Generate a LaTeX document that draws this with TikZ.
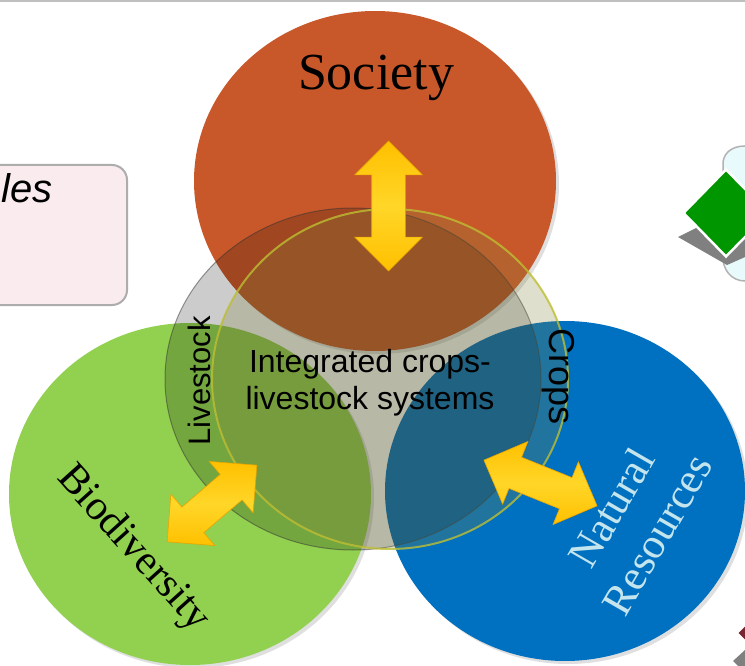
\documentclass[tikz,border=0pt]{standalone}
\usepackage{fontspec}
\setmainfont{Liberation Serif}
\newfontfamily\arialfont{Liberation Sans}
\usepackage{xcolor}
\usepackage{tikz}
\usetikzlibrary{shapes.geometric,shapes.arrows,shadows}

\definecolor{socorange}{RGB}{200,88,42}
\definecolor{biogreen}{RGB}{146,208,80}
\definecolor{natblue}{RGB}{0,112,192}
\definecolor{natlabel}{RGB}{196,229,238}
\definecolor{rimolive}{RGB}{128,128,60}
\definecolor{rimedge}{RGB}{190,190,50}
\definecolor{arrowgold}{RGB}{255,192,0}
\definecolor{arrowlight}{RGB}{255,214,40}
\definecolor{arrowedge}{RGB}{232,165,0}
\definecolor{boxpink}{RGB}{250,235,238}
\definecolor{cloudcyan}{RGB}{232,250,252}
\definecolor{diagreen}{RGB}{0,150,0}
\definecolor{diamaroon}{RGB}{120,38,50}

\begin{document}
\begin{tikzpicture}[x=1pt,y=-1pt,
		blob/.style={shape=ellipse, inner sep=0pt, drop shadow={opacity=0.25, shadow xshift=3pt, shadow yshift=-3pt}},
		biarrow/.style={shape=double arrow, inner xsep=0pt, inner ysep=16.5pt, minimum width=67pt, double arrow head extend=17pt, double arrow head indent=0pt, draw=arrowedge, line width=0.6pt, top color=arrowgold, bottom color=arrowgold, middle color=arrowlight}]
		\useasboundingbox (0,0) rectangle (745,666);
		\clip (0,0) rectangle (745,666);
		\fill[white] (0,0) rectangle (745,666);
		\draw[black!25, line width=1.5pt] (0,1) -- (745,1);

		% side boxes, partly off the page
		\draw[fill=boxpink, draw=black!32, line width=2pt, rounded corners=15pt] (-40,165) rectangle (127,305);
		\node[anchor=base west, inner sep=0pt, font=\arialfont\itshape\fontsize{40}{44}\selectfont] (les) at (1,203) {les};

		\draw[fill=cloudcyan, draw=black!30, line width=1.5pt] (790,146) -- (745,146) .. controls (731,146) and (722,154) .. (723,166) -- (723,255) .. controls (722,269) and (731,281) .. (745,281) -- (790,281);
		\fill[black!50] (678,237) -- (698,227) -- (770,246) -- (727,265) -- cycle;
		\node[shape=diamond, fill=diagreen, draw=white, line width=2.5pt, minimum width=86pt, minimum height=88pt, inner sep=0pt] (dia) at (726,213) {};

		\fill[black!50] (733,661) -- (745,650) -- (745,666) -- (738,666) -- cycle;
		\node[shape=diamond, fill=diamaroon, draw=white, line width=1.5pt, minimum width=18pt, minimum height=18pt, inner sep=0pt] (dot) at (746,633) {};

		% the three fields
		\node[blob, fill=socorange, minimum width=362pt, minimum height=340pt] (soc) at (375,181) {};
		\node[blob, fill=biogreen, minimum width=362pt, minimum height=342pt] (bio) at (190,494) {};
		\node[blob, fill=natblue, minimum width=360pt, minimum height=340pt] (nat) at (565,491) {};

		% the system in the middle
		\node[shape=ellipse, inner sep=0pt, minimum width=376pt, minimum height=342pt, fill=black, fill opacity=0.2, draw=black!80, draw opacity=0.5, line width=1pt] (core) at (353,379) {};
		\node[shape=ellipse, inner sep=0pt, minimum width=356pt, minimum height=340pt, fill=rimolive, fill opacity=0.25, draw=rimedge, draw opacity=0.8, line width=2pt] (rim) at (390,379) {};

		\node[anchor=base, font=\fontsize{52}{56}\selectfont] (soclabel) at (376,90) {Society};
		\node[rotate=-48, font=\fontsize{42}{46}\selectfont] (biolabel) at (133,549) {Biodiversity};
		\node[rotate=60, align=center, text=natlabel, font=\fontsize{43}{53}\selectfont] (natlabel) at (634,521) {Natural\\Resources};
		\node[align=center, font=\arialfont\fontsize{32}{37}\selectfont] (corelabel) at (370,383) {Integrated crops-\\livestock systems};
		\node[rotate=90, font=\arialfont\fontsize{31}{34}\selectfont] (livelabel) at (199,381) {Livestock};
		\node[rotate=-90, font=\arialfont\fontsize{36}{40}\selectfont] (croplabel) at (558,377) {Crops};

		% links to the fields
		\node[biarrow, rotate=90, minimum height=130pt] (socarrow) at (388.5,206) {};
		\node[biarrow, rotate=40.5, minimum height=118pt] (bioarrow) at (212,503.5) {};
		\node[biarrow, rotate=-22, minimum height=122pt] (natarrow) at (540.5,483) {};
\end{tikzpicture}
\end{document}
